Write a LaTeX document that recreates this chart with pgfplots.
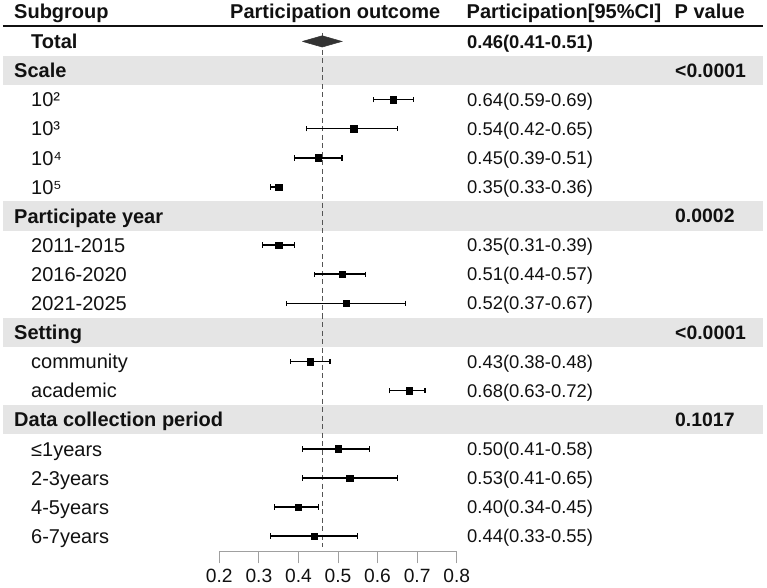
\documentclass[border=0pt]{standalone}
\usepackage{fontspec}
\setmainfont{Liberation Sans}
\usepackage{pgfplots}
\usepackage{pgfplotstable}
\pgfplotsset{compat=1.18}

\definecolor{band}{HTML}{E5E5E5}
\definecolor{diam}{HTML}{333333}
\definecolor{refline}{HTML}{555555}
\definecolor{axisgray}{HTML}{A0A0A0}
\definecolor{ink}{HTML}{111111}

% horizontal position (in points from the left edge) -> x value of the axis
\newcommand\X[1]{0.2+(#1-219.3)/395.7}

% subgroup estimates with 95% CI; row = line number in the table (0 = Total)
\pgfplotstableread{
row est lo hi
2  0.64 0.59 0.69
3  0.54 0.42 0.65
4  0.45 0.39 0.51
5  0.35 0.33 0.36
7  0.35 0.31 0.39
8  0.51 0.44 0.57
9  0.52 0.37 0.67
11 0.43 0.38 0.48
12 0.68 0.63 0.72
14 0.50 0.41 0.58
15 0.53 0.41 0.65
16 0.40 0.34 0.45
17 0.44 0.33 0.55
}\subgroups

\tikzset{
  big/.style={font=\fontsize{20}{24}\selectfont, inner sep=0pt, anchor=base west, yshift=-7.2pt, text=ink},
  hd/.style={big, font=\fontsize{20}{24}\selectfont\bfseries},
  ci/.style={font=\fontsize{18.4}{22}\selectfont, inner sep=0pt, anchor=base west, yshift=-6.6pt, text=ink},
  cib/.style={ci, font=\fontsize{18.4}{22}\selectfont\bfseries},
  pv/.style={font=\fontsize{19.4}{23}\selectfont\bfseries, inner sep=0pt, anchor=base west, yshift=-6.9pt, text=ink},
}

\begin{document}
\begin{tikzpicture}
\begin{axis}[
  scale only axis, width=237.4pt, height=525.8pt,
  xmin=0.2, xmax=0.8, ymin=-17.54, ymax=0.53,
  clip=false,
  axis y line=none, axis x line*=bottom,
  x axis line style={axisgray, line width=0.9pt, -},
  xtick={0.2,0.3,0.4,0.5,0.6,0.7,0.8},
  xticklabels={0.2,0.3,0.4,0.5,0.6,0.7,0.8},
  tick align=outside, major tick length=11.6pt,
  x tick style={axisgray, line width=0.9pt},
  xticklabel style={font=\fontsize{19.2}{23}\selectfont, text=ink, yshift=-2.5pt},
  ytick=\empty,
]
% page extent
\path (axis cs:{\X{0}},1.423) rectangle (axis cs:{\X{767}},-18.749);

% shaded group header rows
\pgfplotsinvokeforeach{1,6,10,13}{
  \fill[band] (axis cs:{\X{3}},{-#1+0.5}) rectangle (axis cs:{\X{763}},{-#1-0.5});
}
% rule under the column headers
\draw[ink, line width=1.6pt] (axis cs:{\X{3}},0.53) -- (axis cs:{\X{763}},0.53);

% pooled estimate reference line
\addplot[refline, line width=1pt, dash pattern=on 5pt off 3.5pt] coordinates {(0.46,0.29) (0.46,-17.37)};

% pooled estimate diamond
\addplot[fill=diam, draw=diam, line width=0.5pt]
  coordinates {(0.41,0) (0.46,0.194) (0.51,0) (0.46,-0.194) (0.41,0)};

% subgroup estimates with capped CI bars
\addplot[only marks, mark=square*, mark size=3.2pt, black,
  error bars/.cd, x dir=both, x explicit,
  error mark=|,
  error bar style={black, line width=1.5pt},
  error mark options={black, mark size=2.7pt, line width=1.2pt}]
  table[x=est, y expr=-\thisrow{row},
        x error plus expr=\thisrow{hi}-\thisrow{est},
        x error minus expr=\thisrow{est}-\thisrow{lo}] {\subgroups};

% column headers
\node[hd] at (axis cs:{\X{14}},1.02) {Subgroup};
\node[hd] at (axis cs:{\X{230}},1.02) {Participation outcome};
\node[hd] at (axis cs:{\X{466.5}},1.02) {Participation[95\%CI]};
\node[hd] at (axis cs:{\X{674.5}},1.02) {P value};

% subgroup labels
\node[hd]  at (axis cs:{\X{31}},0)   {Total};
\node[hd]  at (axis cs:{\X{14}},-1)  {Scale};
\node[big] at (axis cs:{\X{31}},-2)  {10²};
\node[big] at (axis cs:{\X{31}},-3)  {10³};
\node[big] at (axis cs:{\X{31}},-4)  {10⁴};
\node[big] at (axis cs:{\X{31}},-5)  {10⁵};
\node[hd]  at (axis cs:{\X{14}},-6)  {Participate year};
\node[big] at (axis cs:{\X{31}},-7)  {2011-2015};
\node[big] at (axis cs:{\X{31}},-8)  {2016-2020};
\node[big] at (axis cs:{\X{31}},-9)  {2021-2025};
\node[hd]  at (axis cs:{\X{14}},-10) {Setting};
\node[big] at (axis cs:{\X{31}},-11) {community};
\node[big] at (axis cs:{\X{31}},-12) {academic};
\node[hd]  at (axis cs:{\X{14}},-13) {Data collection period};
\node[big] at (axis cs:{\X{31}},-14) {≤1years};
\node[big] at (axis cs:{\X{31}},-15) {2-3years};
\node[big] at (axis cs:{\X{31}},-16) {4-5years};
\node[big] at (axis cs:{\X{31}},-17) {6-7years};

% estimate [95% CI] column
\node[cib] at (axis cs:{\X{467}},0)   {0.46(0.41-0.51)};
\node[ci]  at (axis cs:{\X{467}},-2)  {0.64(0.59-0.69)};
\node[ci]  at (axis cs:{\X{467}},-3)  {0.54(0.42-0.65)};
\node[ci]  at (axis cs:{\X{467}},-4)  {0.45(0.39-0.51)};
\node[ci]  at (axis cs:{\X{467}},-5)  {0.35(0.33-0.36)};
\node[ci]  at (axis cs:{\X{467}},-7)  {0.35(0.31-0.39)};
\node[ci]  at (axis cs:{\X{467}},-8)  {0.51(0.44-0.57)};
\node[ci]  at (axis cs:{\X{467}},-9)  {0.52(0.37-0.67)};
\node[ci]  at (axis cs:{\X{467}},-11) {0.43(0.38-0.48)};
\node[ci]  at (axis cs:{\X{467}},-12) {0.68(0.63-0.72)};
\node[ci]  at (axis cs:{\X{467}},-14) {0.50(0.41-0.58)};
\node[ci]  at (axis cs:{\X{467}},-15) {0.53(0.41-0.65)};
\node[ci]  at (axis cs:{\X{467}},-16) {0.40(0.34-0.45)};
\node[ci]  at (axis cs:{\X{467}},-17) {0.44(0.33-0.55)};

% P values
\node[pv] at (axis cs:{\X{675}},-1)  {<0.0001};
\node[pv] at (axis cs:{\X{675}},-6)  {0.0002};
\node[pv] at (axis cs:{\X{675}},-10) {<0.0001};
\node[pv] at (axis cs:{\X{675}},-13) {0.1017};
\end{axis}
\end{tikzpicture}
\end{document}
